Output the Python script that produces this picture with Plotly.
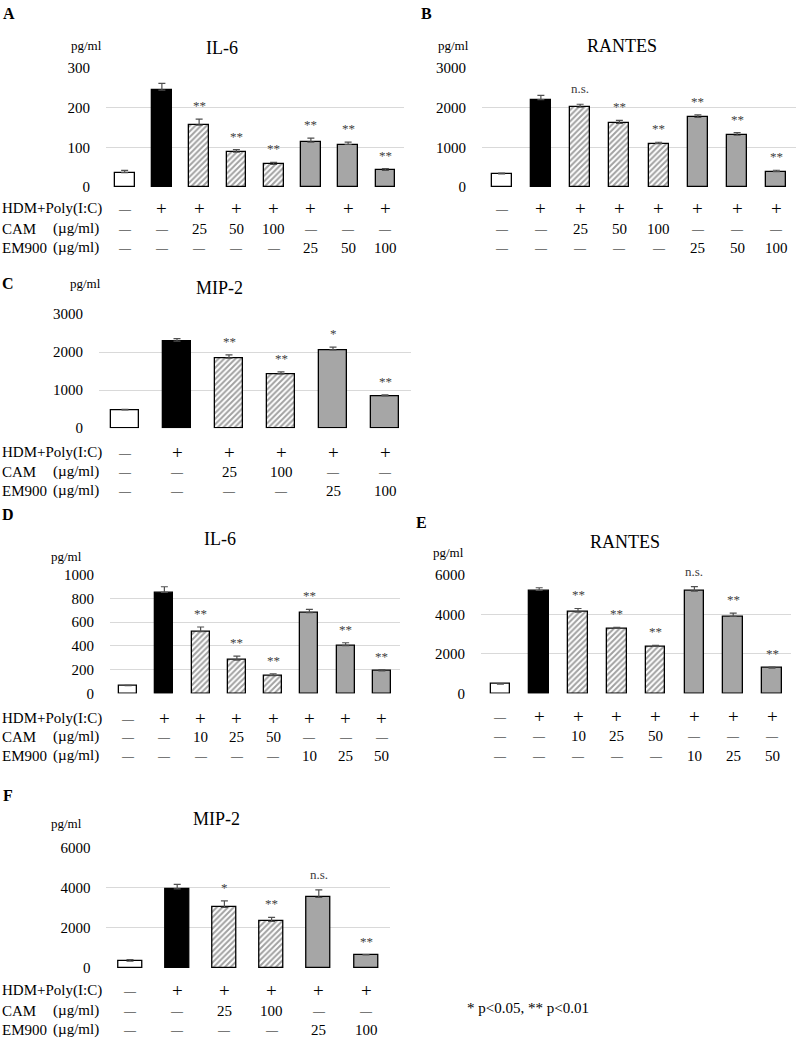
import plotly.graph_objects as go

W, H = 796, 1040

# ---------------- data ----------------
A_vals = [36, 244, 156, 88, 57, 113, 107, 42]
A_err = [6, 17, 15, 6, 5, 10, 6, 4]
A_sig = ["", "", "**", "**", "**", "**", "**", "**"]
A_hdm = ["—", "+", "+", "+", "+", "+", "+", "+"]
A_cam = ["—", "—", "25", "50", "100", "—", "—", "—"]
A_em = ["—", "—", "—", "—", "—", "25", "50", "100"]

B_vals = [328, 2200, 2010, 1605, 1092, 1756, 1303, 386]
B_err = [20, 110, 75, 75, 35, 60, 65, 35]
B_sig = ["", "", "n.s.", "**", "**", "**", "**", "**"]
B_hdm = A_hdm
B_cam = A_cam
B_em = A_em

C_vals = [482, 2289, 1842, 1429, 2061, 850]
C_err = [10, 70, 88, 50, 70, 25]
C_sig = ["", "", "**", "**", "*", "**"]
C_hdm = ["—", "+", "+", "+", "+", "+"]
C_cam = ["—", "—", "25", "100", "—", "—"]
C_em = ["—", "—", "—", "—", "25", "100"]

D_vals = [65, 851, 520, 281, 149, 680, 402, 189]
D_err = [3, 48, 40, 34, 17, 28, 25, 11]
D_sig = ["", "", "**", "**", "**", "**", "**", "**"]
D_hdm = A_hdm
D_cam = ["—", "—", "10", "25", "50", "—", "—", "—"]
D_em = ["—", "—", "—", "—", "—", "10", "25", "50"]

E_vals = [475, 5206, 4115, 3286, 2376, 5176, 3892, 1284]
E_err = [20, 137, 180, 50, 50, 230, 170, 50]
E_sig = ["", "", "**", "**", "**", "n.s.", "**", "**"]
E_hdm = A_hdm
E_cam = D_cam
E_em = D_em

F_vals = [333, 3950, 3033, 2333, 3533, 650]
F_err = [80, 230, 317, 200, 367, 20]
F_sig = ["", "", "*", "**", "n.s.", "**"]
F_hdm = C_hdm
F_cam = C_cam
F_em = C_em

GREY = "#a6a6a6"
styles8 = ["white", "black", "hatch", "hatch", "hatch", "grey", "grey", "grey"]
styles6 = ["white", "black", "hatch", "hatch", "grey", "grey"]

FONT = "Liberation Serif, Times New Roman, serif"

panels = [
    dict(vals=A_vals, err=A_err, sig=A_sig, hdm=A_hdm, cam=A_cam, em=A_em, st=styles8, ymax=300, dtick=100,
         xpx=(106, 404), ypx=(67, 186), rows=(208, 228, 247), title="IL-6", txy=(222, 47), pxy=(86, 45),
         lab="A", lxy=(9, 13), gap=0.47, rowlabels=True),
    dict(vals=B_vals, err=B_err, sig=B_sig, hdm=B_hdm, cam=B_cam, em=B_em, st=styles8, ymax=3000, dtick=1000,
         xpx=(482, 796), ypx=(67, 186), rows=(208, 228, 247), title="RANTES", txy=(622, 45), pxy=(453, 45),
         lab="B", lxy=(426, 13), gap=0.49, rowlabels=False),
    dict(vals=C_vals, err=C_err, sig=C_sig, hdm=C_hdm, cam=C_cam, em=C_em, st=styles6, ymax=3000, dtick=1000,
         xpx=(99, 411), ypx=(313.3, 427.3), rows=(452, 471, 490), title="MIP-2", txy=(220, 287), pxy=(85, 283),
         lab="C", lxy=(8, 283), gap=0.48, rowlabels=True),
    dict(vals=D_vals, err=D_err, sig=D_sig, hdm=D_hdm, cam=D_cam, em=D_em, st=styles8, ymax=1000, dtick=200,
         xpx=(110, 400), ypx=(574, 692.7), rows=(718, 736, 755), title="IL-6", txy=(220, 538), pxy=(66, 556),
         lab="D", lxy=(8, 514), gap=0.5, rowlabels=True),
    dict(vals=E_vals, err=E_err, sig=E_sig, hdm=E_hdm, cam=E_cam, em=E_em, st=styles8, ymax=6000, dtick=2000,
         xpx=(481, 791.4), ypx=(574, 692.7), rows=(716, 735, 755), title="RANTES", txy=(625, 541), pxy=(448, 552),
         lab="E", lxy=(421, 522), gap=0.49, rowlabels=False),
    dict(vals=F_vals, err=F_err, sig=F_sig, hdm=F_hdm, cam=F_cam, em=F_em, st=styles6, ymax=6000, dtick=2000,
         xpx=(106.4, 389.6), ypx=(847.3, 967.3), rows=(990, 1010, 1029), title="MIP-2", txy=(216, 818), pxy=(66, 823),
         lab="F", lxy=(8, 795), gap=0.49, rowlabels=True),
]

fig = go.Figure()
annotations = []

# empirical vertical correction of the photographed page
Y_OFF, Y_SCALE = 7.0, 0.985


def px_x(x):
    return x / W


def px_y(y):
    return 1 - ((y - Y_OFF) / Y_SCALE) / H


for i, p in enumerate(panels):
    n = len(p["vals"])
    idx = "" if i == 0 else str(i + 1)
    xa, ya = "x" + idx, "y" + idx
    colors, shapes = [], []
    for s in p["st"]:
        if s == "white":
            colors.append("white"); shapes.append("")
        elif s == "black":
            colors.append("black"); shapes.append("")
        elif s == "hatch":
            colors.append("white"); shapes.append("/")
        else:
            colors.append(GREY); shapes.append("")
    fig.add_trace(go.Bar(
        x=list(range(n)), y=p["vals"], xaxis=xa, yaxis=ya, width=1 - p["gap"],
        marker=dict(color=colors, line=dict(color="black", width=1.3),
                    pattern=dict(shape=shapes, fgcolor="black", bgcolor="white", size=4, solidity=0.5)),
        error_y=dict(type="data", symmetric=False, array=p["err"], arrayminus=[0] * n,
                     color="#505050", thickness=1.2, width=3.5),
        showlegend=False, hoverinfo="skip",
    ))
    fig.update_layout(**{
        ("xaxis" + idx): dict(domain=[px_x(p["xpx"][0]), px_x(p["xpx"][1])], anchor=ya,
                              range=[-0.5, n - 0.5], showticklabels=False, showgrid=False,
                              zeroline=False, showline=False, ticks=""),
        ("yaxis" + idx): dict(domain=[px_y(p["ypx"][1]), px_y(p["ypx"][0])], anchor=xa,
                              range=[0, p["ymax"]], dtick=p["dtick"], tick0=0, showgrid=True,
                              gridcolor="#d9d9d9", gridwidth=1, zeroline=False, showline=False,
                              ticks="outside", ticklen=12, tickcolor="rgba(0,0,0,0)",
                              tickfont=dict(family=FONT, size=15, color="black")),
    })
    for j, s in enumerate(p["sig"]):
        if s:
            annotations.append(dict(x=j, y=p["vals"][j] + p["err"][j], xref=xa, yref=ya,
                                    text=s, showarrow=False, yanchor="bottom",
                                    yshift=4 if s != "n.s." else 6,
                                    font=dict(family=FONT, size=13, color="#404040")))
    for row, ypos in zip([p["hdm"], p["cam"], p["em"]], p["rows"]):
        for j, t in enumerate(row):
            size = 15
            if t == "+":
                size = 19
            elif t == "—":
                size = 12
            annotations.append(dict(x=j, y=px_y(ypos), xref=xa, yref="paper", text=t,
                                    showarrow=False, xanchor="center", yanchor="middle",
                                    font=dict(family=FONT, size=size, color="black")))
    if p["rowlabels"]:
        r = p["rows"]
        for txt, ypos in [("HDM+Poly(I:C)", r[0]), ("CAM", r[1]), ("EM900", r[2])]:
            annotations.append(dict(x=0, y=px_y(ypos), xref="paper", yref="paper", text=txt,
                                    showarrow=False, xanchor="left", yanchor="middle",
                                    font=dict(family=FONT, size=15, color="black")))
        for ypos in (r[1], r[2]):
            annotations.append(dict(x=px_x(51), y=px_y(ypos), xref="paper", yref="paper", text="(µg/ml)",
                                    showarrow=False, xanchor="left", yanchor="middle",
                                    font=dict(family=FONT, size=15, color="black")))
    annotations.append(dict(x=px_x(p["txy"][0]), y=px_y(p["txy"][1]), xref="paper", yref="paper",
                            text=p["title"], showarrow=False, xanchor="center", yanchor="middle",
                            font=dict(family=FONT, size=18, color="black")))
    annotations.append(dict(x=px_x(p["pxy"][0]), y=px_y(p["pxy"][1]), xref="paper", yref="paper",
                            text="pg/ml", showarrow=False, xanchor="center", yanchor="middle",
                            font=dict(family=FONT, size=13, color="black")))
    annotations.append(dict(x=px_x(p["lxy"][0]), y=px_y(p["lxy"][1]), xref="paper", yref="paper",
                            text="<b>" + p["lab"] + "</b>", showarrow=False, xanchor="center", yanchor="middle",
                            font=dict(family=FONT, size=16, color="black")))

annotations.append(dict(x=px_x(528), y=px_y(1007), xref="paper", yref="paper",
                        text="* p<0.05, ** p<0.01", showarrow=False, xanchor="center", yanchor="middle",
                        font=dict(family=FONT, size=15, color="black")))

fig.update_layout(width=W, height=H, margin=dict(l=0, r=0, t=0, b=0),
                  font=dict(family=FONT, color="black"),
                  paper_bgcolor="white", plot_bgcolor="white", annotations=annotations,
                  barmode="group", bargap=0)
fig.write_html("out.html", config={"displayModeBar": False},
               post_script="document.body.style.margin='0';document.body.style.overflow='hidden';")
